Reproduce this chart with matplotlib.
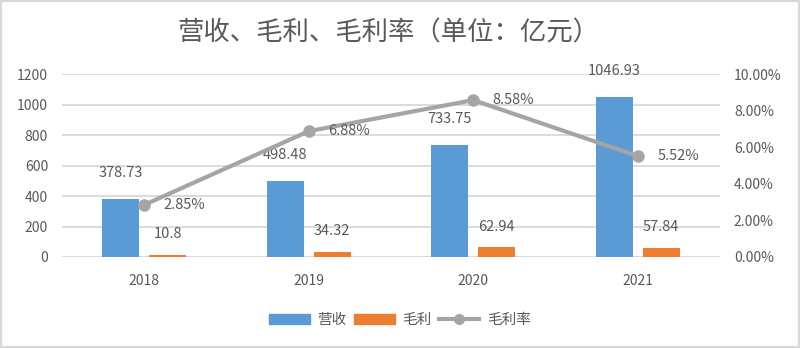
import matplotlib
matplotlib.use("Agg")
import matplotlib.pyplot as plt
from matplotlib.patches import Rectangle
from matplotlib.lines import Line2D
from matplotlib.ticker import FuncFormatter
import numpy as np

plt.rcParams['font.family'] = ['Noto Sans CJK SC', 'DejaVu Sans']

years = ["2018", "2019", "2020", "2021"]
revenue = [378.73, 498.48, 733.75, 1046.93]
gross_profit = [10.8, 34.32, 62.94, 57.84]
gross_margin = [2.85, 6.88, 8.58, 5.52]  # percent

BLUE = "#5B9BD5"
ORANGE = "#ED7D31"
GRAY = "#A5A5A5"
TEXT = "#595959"
GRID = "#D9D9D9"

fig = plt.figure(figsize=(8, 3.48), dpi=100)
fig.patches.append(Rectangle((0, 0), 1, 1, transform=fig.transFigure,
                             fill=False, edgecolor="#D9D9D9", linewidth=3))

ax = fig.add_axes([0.0775, 0.2615, 0.8225, 0.5255])
x = np.arange(len(years))
w = 0.225
off = 0.143

ax.bar(x - off, revenue, w, color=BLUE, zorder=2)
ax.bar(x + off, gross_profit, w, color=ORANGE, zorder=2)

ax.set_xlim(-0.5, 3.5)
ax.set_ylim(0, 1200)
ax.set_yticks(np.arange(0, 1201, 200))
ax.grid(axis="y", color=GRID, linewidth=1.3, zorder=0)
ax.set_xticks(x)
ax.set_xticklabels(years)
for s in ax.spines.values():
    s.set_visible(False)
ax.tick_params(axis="both", length=0, labelsize=10, colors=TEXT)
ax.tick_params(axis="x", pad=12)
ax.tick_params(axis="y", pad=10)

for xi, v in zip(x, revenue):
    ax.annotate(f"{v:g}", (xi - off, v), xytext=(0, 14), textcoords="offset points",
                ha="center", va="bottom", fontsize=10.5, color=TEXT)
for xi, v in zip(x, gross_profit):
    ax.annotate(f"{v:g}", (xi + off, v), xytext=(0, 10), textcoords="offset points",
                ha="center", va="bottom", fontsize=10.5, color=TEXT)

ax2 = ax.twinx()
ax2.set_ylim(0, 10)
ax2.set_yticks(np.arange(0, 10.01, 2))
ax2.yaxis.set_major_formatter(FuncFormatter(lambda v, p: f"{v:.2f}%"))
for s in ax2.spines.values():
    s.set_visible(False)
ax2.tick_params(axis="y", length=0, labelsize=10, colors=TEXT, pad=10)
ax2.plot(x, gross_margin, color=GRAY, linewidth=3, marker="o", markersize=8, zorder=3)
for xi, v in zip(x, gross_margin):
    ax2.annotate(f"{v:.2f}%", (xi, v), xytext=(14, 0), textcoords="offset points",
                 ha="left", va="center", fontsize=10.5, color=TEXT)

fig.text(0.485, 0.905, "营收、毛利、毛利率（单位：亿元）", ha="center", va="center",
         fontsize=19, fontweight="light", color=TEXT)

handles = [Rectangle((0, 0), 1, 1, color=BLUE),
           Rectangle((0, 0), 1, 1, color=ORANGE),
           Line2D([], [], color=GRAY, linewidth=3, marker="o", markersize=7)]
fig.legend(handles, ["营收", "毛利", "毛利率"], loc="center", bbox_to_anchor=(0.5, 0.08),
           ncol=3, frameon=False, fontsize=10.5, labelcolor=TEXT,
           handlelength=2.8, handletextpad=0.5, columnspacing=0.5, handleheight=0.6)

fig.savefig("out.png", dpi=100)
